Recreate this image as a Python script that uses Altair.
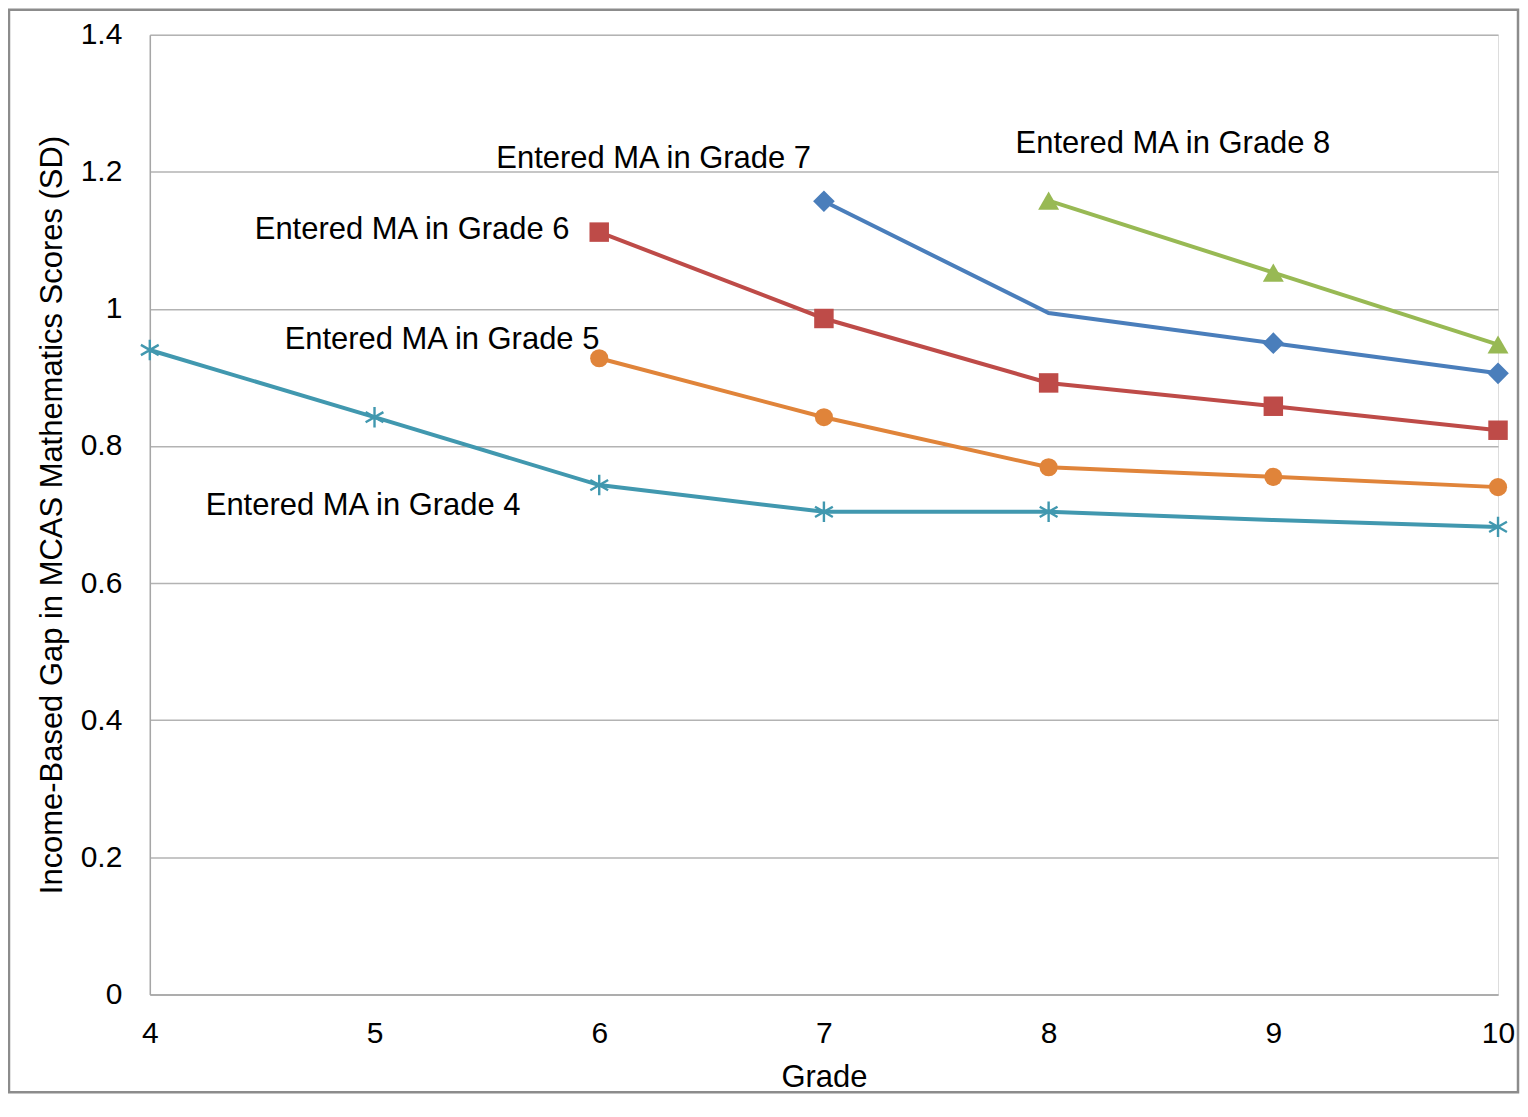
import altair as alt
import pandas as pd

grades = [4, 5, 6, 7, 8, 9, 10]

series_names = ["Grade 4", "Grade 5", "Grade 6", "Grade 7", "Grade 8"]
g4_grades = [4, 5, 6, 7, 8, 9, 10]
g4_values = [0.940, 0.842, 0.743, 0.704, 0.704, 0.692, 0.682]
g4_marker = [True, True, True, True, True, False, True]

g5_grades = [6, 7, 8, 9, 10]
g5_values = [0.928, 0.842, 0.769, 0.755, 0.740]
g5_marker = [True, True, True, True, True]

g6_grades = [6, 7, 8, 9, 10]
g6_values = [1.112, 0.986, 0.892, 0.858, 0.823]
g6_marker = [True, True, True, True, True]

g7_grades = [7, 8, 9, 10]
g7_values = [1.157, 0.994, 0.950, 0.906]
g7_marker = [True, False, True, True]

g8_grades = [8, 9, 10]
g8_values = [1.158, 1.053, 0.948]
g8_marker = [True, True, True]

label_texts = ["Entered MA in Grade 4", "Entered MA in Grade 5", "Entered MA in Grade 6",
               "Entered MA in Grade 7", "Entered MA in Grade 8"]
label_x = [4.249, 4.600, 4.467, 5.542, 7.853]
label_y = [0.712, 0.954, 1.1145, 1.219, 1.241]

colors = ["#4198AF", "#E0843A", "#BE4B48", "#4A7EBB", "#98B954"]
ASTERISK = "M0,-1L0,1M-0.87,-0.5L0.87,0.5M-0.87,0.5L0.87,-0.5"
shapes = [ASTERISK, "circle", "square", "diamond", "triangle-up"]
sizes = [420, 330, 380, 470, 440]

all_series = [
    (g4_grades, g4_values, g4_marker),
    (g5_grades, g5_values, g5_marker),
    (g6_grades, g6_values, g6_marker),
    (g7_grades, g7_values, g7_marker),
    (g8_grades, g8_values, g8_marker),
]

rows = []
for name, (gs, vs, ms) in zip(series_names, all_series):
    for g, v, m in zip(gs, vs, ms):
        rows.append({"series": name, "grade": g, "value": v, "marker": m})
df = pd.DataFrame(rows)

FONT = "Liberation Sans"

x_scale = alt.Scale(domain=[4, 10], nice=False, zero=False)
y_scale = alt.Scale(domain=[0, 1.4], nice=False)

x_enc = alt.X("grade:Q", scale=x_scale, title="Grade",
              axis=alt.Axis(values=grades, format="d", grid=False, ticks=False,
                            domainColor="#A6A6A6", domainWidth=1.5,
                            labelFontSize=30, labelFont=FONT, labelColor="black",
                            labelPadding=24, titleFontSize=31, titleFont=FONT,
                            titleFontWeight="normal", titleColor="black",
                            titlePadding=14, labelFlush=False))
y_enc = alt.Y("value:Q", scale=y_scale,
              title="Income-Based Gap in MCAS Mathematics Scores (SD)",
              axis=alt.Axis(values=[0, 0.2, 0.4, 0.6, 0.8, 1.0, 1.2, 1.4],
                            labelExpr="datum.value == 0 ? '0' : datum.value == 1 ? '1' : format(datum.value, '.1f')",
                            grid=True, gridColor="#B3B3B3", gridWidth=1.5,
                            ticks=False, domainColor="#A6A6A6", domainWidth=1.5,
                            labelFontSize=30, labelFont=FONT, labelColor="black",
                            labelPadding=28, titleFontSize=31, titleFont=FONT,
                            titleFontWeight="normal", titleColor="black",
                            titlePadding=12, labelFlush=False))

layers = []
frame = alt.Chart(pd.DataFrame({"a": [0]})).mark_rect(
    fill=None, stroke="#8C8C8C", strokeWidth=2.5, clip=False
).encode(x=alt.value(-141), x2=alt.value(1370), y=alt.value(-25), y2=alt.value(1059))
layers.append(frame)

for i, name in enumerate(series_names):
    sdf = df[df["series"] == name]
    line = alt.Chart(sdf).mark_line(color=colors[i], strokeWidth=4).encode(
        x=x_enc, y=y_enc, order="grade:Q")
    layers.append(line)
for i, name in enumerate(series_names):
    sdf = df[(df["series"] == name) & (df["marker"])]
    if i == 0:
        pts = alt.Chart(sdf).mark_point(shape=shapes[i], size=sizes[i], filled=False,
                                        stroke=colors[i], strokeWidth=2.4, opacity=1).encode(
            x="grade:Q", y="value:Q")
    else:
        pts = alt.Chart(sdf).mark_point(shape=shapes[i], size=sizes[i], filled=True,
                                        fill=colors[i], color=colors[i], opacity=1,
                                        strokeWidth=0).encode(
            x="grade:Q", y="value:Q")
    layers.append(pts)

labels_df = pd.DataFrame({"text": label_texts, "grade": label_x, "value": label_y})
labels = alt.Chart(labels_df).mark_text(
    align="left", baseline="middle", fontSize=31, font=FONT, color="black"
).encode(x="grade:Q", y="value:Q", text="text:N")
layers.append(labels)

chart = alt.layer(*layers).properties(
    width=1350, height=961,
    autosize=alt.AutoSizeParams(type="none"),
    padding={"left": 142, "top": 26, "right": 22, "bottom": 100},
).configure_view(stroke=None).configure(background="white")

chart.save("out.html", embed_options={"renderer": "svg", "actions": False})
